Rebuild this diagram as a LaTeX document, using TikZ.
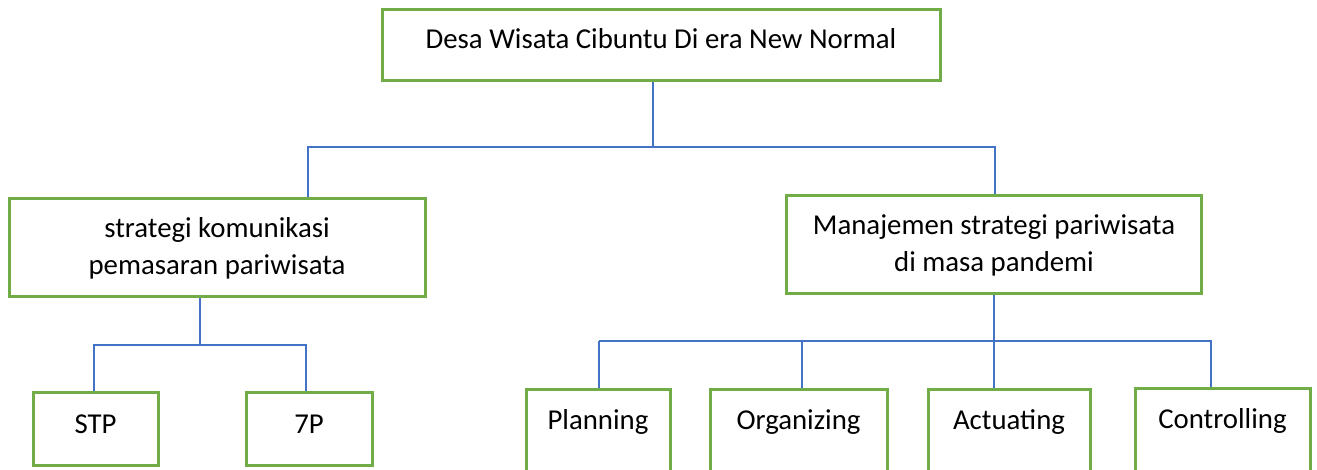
\documentclass[tikz,border=0pt]{standalone}
\usepackage{fontspec}
\setmainfont{Carlito}
\usetikzlibrary{calc}

\tikzset{
    box/.style={draw=boxColour, line width=3pt, fill=white, inner sep=0pt,
        align=center, font=\fontsize{28.8}{37}\selectfont},
    link/.style={draw=linkColour, line width=1.3pt}
}

\begin{document}
\begin{tikzpicture}[x=1pt, y=1pt]
    % Define colours
    \definecolor{boxColour}{HTML}{70AD47}
    \definecolor{linkColour}{HTML}{4472C4}

    % Fix the page size
    \fill[white] (0,0) rectangle (1317,469);
    \useasboundingbox (0,0) rectangle (1317,469);

    % Top box
    \node[box, minimum width=558pt, minimum height=71pt, text height=19pt, text depth=13pt]
        (desa) at (661,423.5) {Desa Wisata Cibuntu Di era New Normal};

    % Second level
    \node[box, minimum width=416pt, minimum height=98pt, text height=54pt, text depth=0pt]
        (komunikasi) at (217,221) {strategi komunikasi\\pemasaran pariwisata};
    \node[box, minimum width=415pt, minimum height=98pt, text height=54pt, text depth=0pt]
        (manajemen) at (994,224) {Manajemen strategi pariwisata\\di masa pandemi};

    % Third level, left
    \node[box, minimum width=125pt, minimum height=73pt, text height=19pt, text depth=9pt]
        (stp) at (95.5,40.5) {STP};
    \node[box, minimum width=126pt, minimum height=73pt, text height=19pt, text depth=9pt]
        (sevenp) at (309,40.5) {7P};

    % Third level, right (cut off by the page)
    \node[box, minimum width=144pt, minimum height=89pt, text height=19pt, text depth=28pt]
        (planning) at (598,35.5) {Planning};
    \node[box, minimum width=177pt, minimum height=89pt, text height=19pt, text depth=28pt]
        (organizing) at (798.5,35.5) {Organizing};
    \node[box, minimum width=162pt, minimum height=89pt, text height=19pt, text depth=28pt]
        (actuating) at (1009,35.5) {Actuating};
    \node[box, minimum width=175pt, minimum height=90pt, text height=19pt, text depth=28pt]
        (controlling) at (1222.5,36) {Controlling};

    % Junctions
    \coordinate (topBus) at (308,322);
    \coordinate (leftBus) at (94,124);
    \coordinate (rightBus) at (599,128);

    % Connectors from the top box
    \draw[link] ([xshift=-8pt]desa.south) |- (topBus) -- (topBus |- komunikasi.north);
    \draw[link] (topBus) -| ([xshift=1pt]manajemen.north);

    % Connectors, left branch
    \draw[link] ([xshift=-17pt]komunikasi.south) |- (leftBus) -- (leftBus |- stp.north);
    \draw[link] (leftBus) -| ([xshift=-3pt]sevenp.north);

    % Connectors, right branch
    \draw[link] (manajemen.south) -- (manajemen.south |- actuating.north);
    \draw[link] (rightBus) -- (rightBus |- planning.north);
    \draw[link] (rightBus) -| ([xshift=-11.5pt]controlling.north);
    \draw[link] ([xshift=3.5pt]organizing.north) -- ([xshift=3.5pt]organizing.north |- rightBus);
\end{tikzpicture}
\end{document}
